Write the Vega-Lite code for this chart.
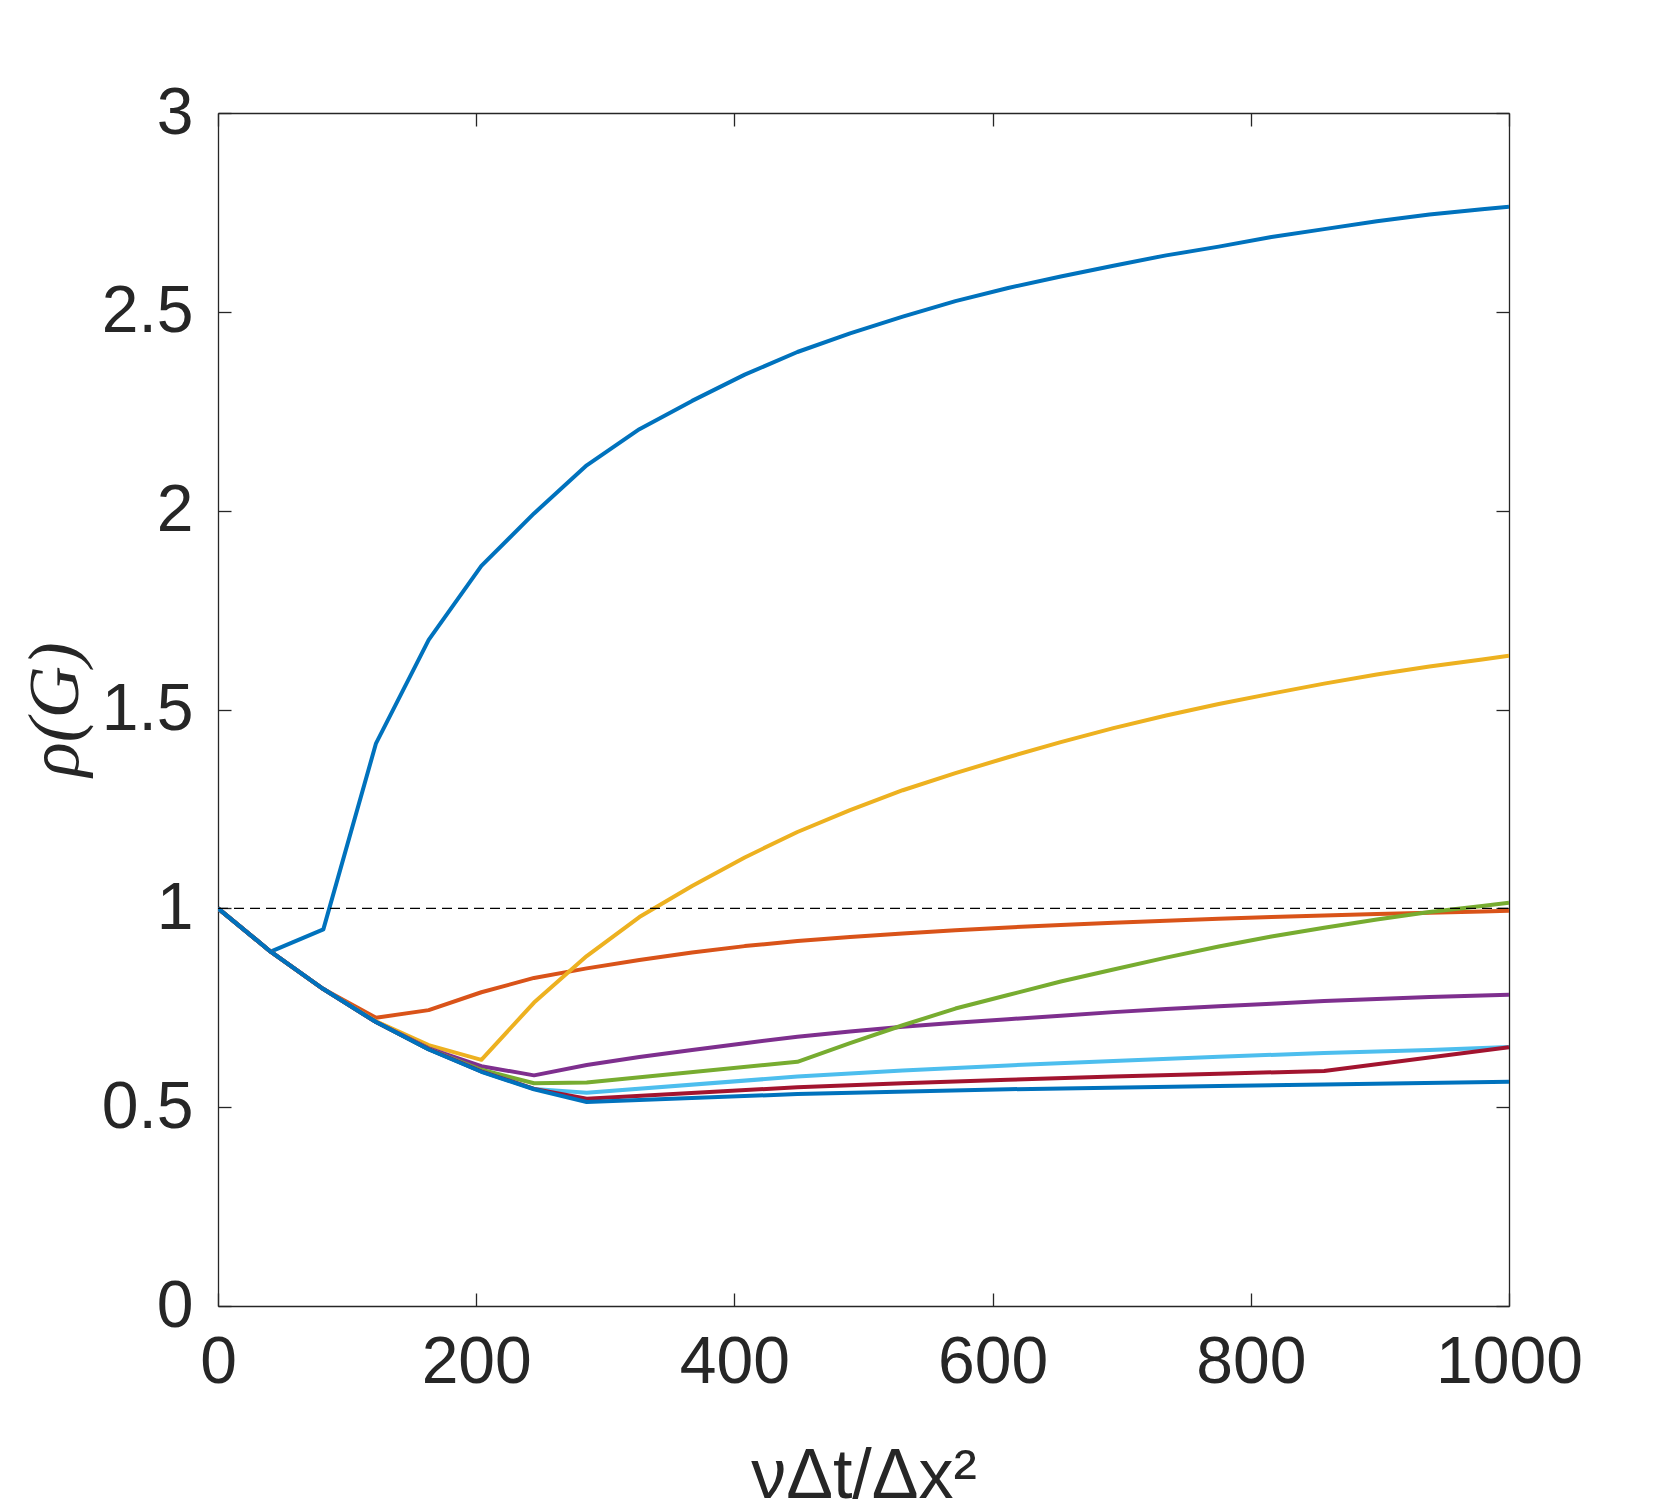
{
  "$schema": "https://vega.github.io/schema/vega-lite/v6.json",
  "autosize": {"type": "none"},
  "padding": {"left": 218, "top": 113, "right": 158, "bottom": 206},
  "width": 1291,
  "height": 1193,
  "background": "white",
  "config": {
    "view": {"stroke": null},
    "axis": {
      "grid": false,
      "labelFont": "Liberation Sans",
      "labelFontSize": 66,
      "labelColor": "#262626",
      "domainColor": "#262626",
      "domainWidth": 1.3,
      "tickColor": "#262626",
      "tickWidth": 1.3,
      "tickSize": -13,
      "labelFlush": false,
      "labelOverlap": false
    }
  },
  "layer": [
    {
      "data": {
        "values": [
          {"s": "a1", "x": 0, "y": 1.0}, {"s": "a1", "x": 40.8, "y": 0.891}, {"s": "a1", "x": 81.6, "y": 0.947},
          {"s": "a1", "x": 122.4, "y": 1.415}, {"s": "a1", "x": 163.2, "y": 1.675}, {"s": "a1", "x": 204, "y": 1.861},
          {"s": "a1", "x": 244.8, "y": 1.993}, {"s": "a1", "x": 285.6, "y": 2.114}, {"s": "a1", "x": 326.4, "y": 2.205},
          {"s": "a1", "x": 367.2, "y": 2.276}, {"s": "a1", "x": 408, "y": 2.342}, {"s": "a1", "x": 448.8, "y": 2.399},
          {"s": "a1", "x": 489.6, "y": 2.446}, {"s": "a1", "x": 530.4, "y": 2.488}, {"s": "a1", "x": 571.2, "y": 2.527},
          {"s": "a1", "x": 612, "y": 2.56}, {"s": "a1", "x": 652.8, "y": 2.589}, {"s": "a1", "x": 693.6, "y": 2.616},
          {"s": "a1", "x": 734.4, "y": 2.642}, {"s": "a1", "x": 775.2, "y": 2.664}, {"s": "a1", "x": 816, "y": 2.688},
          {"s": "a1", "x": 856.8, "y": 2.708}, {"s": "a1", "x": 897.6, "y": 2.728}, {"s": "a1", "x": 938.4, "y": 2.745},
          {"s": "a1", "x": 979.2, "y": 2.758}, {"s": "a1", "x": 1000, "y": 2.764},

          {"s": "a2", "x": 0, "y": 1.0}, {"s": "a2", "x": 40.8, "y": 0.891}, {"s": "a2", "x": 81.6, "y": 0.797},
          {"s": "a2", "x": 122.4, "y": 0.725}, {"s": "a2", "x": 163.2, "y": 0.744}, {"s": "a2", "x": 204, "y": 0.789},
          {"s": "a2", "x": 244.8, "y": 0.825}, {"s": "a2", "x": 285.6, "y": 0.849}, {"s": "a2", "x": 326.4, "y": 0.87},
          {"s": "a2", "x": 367.2, "y": 0.889}, {"s": "a2", "x": 408, "y": 0.905}, {"s": "a2", "x": 448.8, "y": 0.918},
          {"s": "a2", "x": 489.6, "y": 0.928}, {"s": "a2", "x": 530.4, "y": 0.937}, {"s": "a2", "x": 571.2, "y": 0.945},
          {"s": "a2", "x": 612, "y": 0.952}, {"s": "a2", "x": 652.8, "y": 0.958}, {"s": "a2", "x": 693.6, "y": 0.964},
          {"s": "a2", "x": 734.4, "y": 0.969}, {"s": "a2", "x": 775.2, "y": 0.974}, {"s": "a2", "x": 816, "y": 0.978},
          {"s": "a2", "x": 856.8, "y": 0.982}, {"s": "a2", "x": 897.6, "y": 0.986}, {"s": "a2", "x": 938.4, "y": 0.989},
          {"s": "a2", "x": 979.2, "y": 0.992}, {"s": "a2", "x": 1000, "y": 0.994},

          {"s": "a3", "x": 0, "y": 1.0}, {"s": "a3", "x": 40.8, "y": 0.891}, {"s": "a3", "x": 81.6, "y": 0.797},
          {"s": "a3", "x": 122.4, "y": 0.716}, {"s": "a3", "x": 163.2, "y": 0.656}, {"s": "a3", "x": 204, "y": 0.619},
          {"s": "a3", "x": 244.8, "y": 0.763}, {"s": "a3", "x": 285.6, "y": 0.88}, {"s": "a3", "x": 326.4, "y": 0.978},
          {"s": "a3", "x": 367.2, "y": 1.056}, {"s": "a3", "x": 408, "y": 1.128}, {"s": "a3", "x": 448.8, "y": 1.192},
          {"s": "a3", "x": 489.6, "y": 1.247}, {"s": "a3", "x": 530.4, "y": 1.297}, {"s": "a3", "x": 571.2, "y": 1.34},
          {"s": "a3", "x": 612, "y": 1.38}, {"s": "a3", "x": 652.8, "y": 1.418}, {"s": "a3", "x": 693.6, "y": 1.453},
          {"s": "a3", "x": 734.4, "y": 1.485}, {"s": "a3", "x": 775.2, "y": 1.514}, {"s": "a3", "x": 816, "y": 1.54},
          {"s": "a3", "x": 856.8, "y": 1.565}, {"s": "a3", "x": 897.6, "y": 1.588}, {"s": "a3", "x": 938.4, "y": 1.608},
          {"s": "a3", "x": 979.2, "y": 1.626}, {"s": "a3", "x": 1000, "y": 1.635},

          {"s": "a4", "x": 0, "y": 1.0}, {"s": "a4", "x": 40.8, "y": 0.891}, {"s": "a4", "x": 81.6, "y": 0.797},
          {"s": "a4", "x": 122.4, "y": 0.714}, {"s": "a4", "x": 163.2, "y": 0.648}, {"s": "a4", "x": 204, "y": 0.603},
          {"s": "a4", "x": 244.8, "y": 0.58}, {"s": "a4", "x": 285.6, "y": 0.606}, {"s": "a4", "x": 326.4, "y": 0.626},
          {"s": "a4", "x": 367.2, "y": 0.644}, {"s": "a4", "x": 408, "y": 0.661}, {"s": "a4", "x": 448.8, "y": 0.677},
          {"s": "a4", "x": 489.6, "y": 0.69}, {"s": "a4", "x": 530.4, "y": 0.702}, {"s": "a4", "x": 571.2, "y": 0.712},
          {"s": "a4", "x": 612, "y": 0.721}, {"s": "a4", "x": 652.8, "y": 0.73}, {"s": "a4", "x": 693.6, "y": 0.739},
          {"s": "a4", "x": 734.4, "y": 0.747}, {"s": "a4", "x": 775.2, "y": 0.754}, {"s": "a4", "x": 816, "y": 0.76},
          {"s": "a4", "x": 856.8, "y": 0.767}, {"s": "a4", "x": 897.6, "y": 0.772}, {"s": "a4", "x": 938.4, "y": 0.777},
          {"s": "a4", "x": 979.2, "y": 0.781}, {"s": "a4", "x": 1000, "y": 0.783},

          {"s": "a5", "x": 0, "y": 1.0}, {"s": "a5", "x": 40.8, "y": 0.891}, {"s": "a5", "x": 81.6, "y": 0.797},
          {"s": "a5", "x": 122.4, "y": 0.714}, {"s": "a5", "x": 163.2, "y": 0.646}, {"s": "a5", "x": 204, "y": 0.594},
          {"s": "a5", "x": 244.8, "y": 0.56}, {"s": "a5", "x": 285.6, "y": 0.562}, {"s": "a5", "x": 448.8, "y": 0.614},
          {"s": "a5", "x": 489.6, "y": 0.661}, {"s": "a5", "x": 530.4, "y": 0.706}, {"s": "a5", "x": 571.2, "y": 0.748},
          {"s": "a5", "x": 612, "y": 0.782}, {"s": "a5", "x": 652.8, "y": 0.816}, {"s": "a5", "x": 693.6, "y": 0.846},
          {"s": "a5", "x": 734.4, "y": 0.876}, {"s": "a5", "x": 775.2, "y": 0.904}, {"s": "a5", "x": 816, "y": 0.929},
          {"s": "a5", "x": 856.8, "y": 0.951}, {"s": "a5", "x": 897.6, "y": 0.972}, {"s": "a5", "x": 938.4, "y": 0.991},
          {"s": "a5", "x": 979.2, "y": 1.006}, {"s": "a5", "x": 1000, "y": 1.014},

          {"s": "a6", "x": 0, "y": 1.0}, {"s": "a6", "x": 40.8, "y": 0.891}, {"s": "a6", "x": 81.6, "y": 0.797},
          {"s": "a6", "x": 122.4, "y": 0.714}, {"s": "a6", "x": 163.2, "y": 0.646}, {"s": "a6", "x": 204, "y": 0.59},
          {"s": "a6", "x": 244.8, "y": 0.546}, {"s": "a6", "x": 285.6, "y": 0.536}, {"s": "a6", "x": 448.8, "y": 0.577},
          {"s": "a6", "x": 530.4, "y": 0.592}, {"s": "a6", "x": 612, "y": 0.605}, {"s": "a6", "x": 693.6, "y": 0.616},
          {"s": "a6", "x": 775.2, "y": 0.627}, {"s": "a6", "x": 856.8, "y": 0.636}, {"s": "a6", "x": 938.4, "y": 0.644},
          {"s": "a6", "x": 1000, "y": 0.651},

          {"s": "a7", "x": 0, "y": 1.0}, {"s": "a7", "x": 40.8, "y": 0.891}, {"s": "a7", "x": 81.6, "y": 0.797},
          {"s": "a7", "x": 122.4, "y": 0.714}, {"s": "a7", "x": 163.2, "y": 0.646}, {"s": "a7", "x": 204, "y": 0.59},
          {"s": "a7", "x": 244.8, "y": 0.546}, {"s": "a7", "x": 285.6, "y": 0.521}, {"s": "a7", "x": 448.8, "y": 0.55},
          {"s": "a7", "x": 530.4, "y": 0.56}, {"s": "a7", "x": 612, "y": 0.569}, {"s": "a7", "x": 693.6, "y": 0.577},
          {"s": "a7", "x": 775.2, "y": 0.584}, {"s": "a7", "x": 856.8, "y": 0.591}, {"s": "a7", "x": 1000, "y": 0.651},

          {"s": "a8", "x": 0, "y": 1.0}, {"s": "a8", "x": 40.8, "y": 0.891}, {"s": "a8", "x": 81.6, "y": 0.797},
          {"s": "a8", "x": 122.4, "y": 0.714}, {"s": "a8", "x": 163.2, "y": 0.645}, {"s": "a8", "x": 204, "y": 0.589},
          {"s": "a8", "x": 244.8, "y": 0.545}, {"s": "a8", "x": 285.6, "y": 0.513}, {"s": "a8", "x": 448.8, "y": 0.533},
          {"s": "a8", "x": 612, "y": 0.545}, {"s": "a8", "x": 775.2, "y": 0.553}, {"s": "a8", "x": 856.8, "y": 0.557},
          {"s": "a8", "x": 1000, "y": 0.564}
        ]
      },
      "mark": {"type": "line", "strokeWidth": 4, "strokeJoin": "round", "clip": true},
      "encoding": {
        "x": {
          "field": "x",
          "type": "quantitative",
          "scale": {"domain": [0, 1000], "nice": false},
          "axis": {
            "orient": "bottom",
            "values": [0, 200, 400, 600, 800, 1000],
            "format": "d",
            "labelPadding": 37,
            "title": "νΔt/Δx²",
            "titleFont": "Liberation Sans",
            "titleFontSize": 70,
            "titleFontWeight": "normal",
            "titleColor": "#262626",
            "titleBaseline": "alphabetic",
            "titleX": 645.5,
            "titleY": 191
          }
        },
        "y": {
          "field": "y",
          "type": "quantitative",
          "scale": {"domain": [0, 3], "nice": false},
          "axis": {
            "orient": "left",
            "values": [0, 0.5, 1, 1.5, 2, 2.5, 3],
            "format": "~g",
            "labelPadding": 38,
            "title": "ρ(G)",
            "titleFont": "Liberation Serif",
            "titleFontStyle": "italic",
            "titleFontSize": 72,
            "titleFontWeight": "normal",
            "titleColor": "#262626",
            "titleAngle": -90,
            "titleBaseline": "middle",
            "titleX": -163,
            "titleY": 596
          }
        },
        "color": {
          "field": "s",
          "type": "nominal",
          "legend": null,
          "scale": {
            "domain": ["a1", "a2", "a3", "a4", "a5", "a6", "a7", "a8"],
            "range": ["#0072BD", "#D95319", "#EDB120", "#7E2F8E", "#77AC30", "#4DBEEE", "#A2142F", "#0072BD"]
          }
        }
      }
    },
    {
      "data": {"values": [{"lvl": 1}]},
      "mark": {"type": "rule", "color": "#000000", "strokeWidth": 1.3, "strokeDash": [10, 6]},
      "encoding": {
        "x": {
          "datum": 0,
          "type": "quantitative",
          "axis": {"orient": "top", "values": [0, 200, 400, 600, 800, 1000], "labels": false, "title": null}
        },
        "x2": {"datum": 1000},
        "y": {
          "field": "lvl",
          "type": "quantitative",
          "axis": {"orient": "right", "values": [0, 0.5, 1, 1.5, 2, 2.5, 3], "labels": false, "title": null}
        }
      }
    }
  ],
  "resolve": {"axis": {"x": "independent", "y": "independent"}}
}
